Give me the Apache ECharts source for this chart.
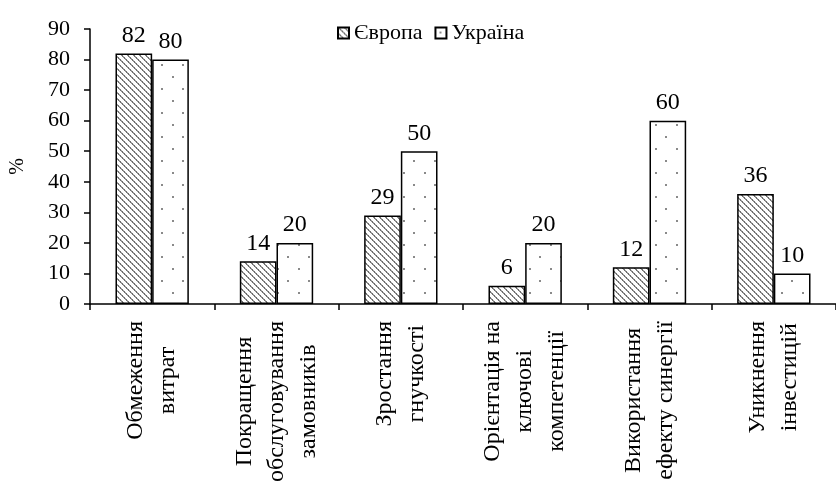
<!DOCTYPE html>
<html>
<head>
<meta charset="utf-8">
<script src="https://cdn.jsdelivr.net/npm/echarts@6/dist/echarts.min.js"></script>
<style>
html,body{margin:0;padding:0;background:#fff;}
#chart{width:836px;height:497px;}
</style>
</head>
<body>
<div id="chart"></div>
<script>
const categories = [
  'Обмеження\nвитрат',
  'Покращення\nобслуговування\nзамовників',
  'Зростання\nгнучкості',
  'Орієнтація на\nключові\nкомпетенції',
  'Використання\nефекту синергії',
  'Уникнення\nінвестицій'
];
const seriesNames = ['Європа', 'Україна'];
const europe = [82, 14, 29, 6, 12, 36];
const ukraine = [80, 20, 50, 20, 60, 10];
const yTicks = { min: 0, max: 90, interval: 10 };
const yName = '%';

const FONT = "'Liberation Serif', 'Times New Roman', serif";

function hatchPattern() {
  const c = document.createElement('canvas');
  c.width = 6; c.height = 6;
  const g = c.getContext('2d');
  g.fillStyle = '#fff'; g.fillRect(0, 0, 6, 6);
  for (let i = 0; i < 6; i++) {
    g.fillStyle = (i % 2 === 0) ? '#6e6e6e' : '#8a8a8a';
    g.fillRect(i, i, 1, 1);
    g.fillStyle = (i % 2 === 0) ? '#a0a0a0' : '#707070';
    g.fillRect((i + 1) % 6, i, 1, 1);
  }
  return c;
}
function dotPattern() {
  const c = document.createElement('canvas');
  c.width = 21; c.height = 24;
  const g = c.getContext('2d');
  g.fillStyle = '#fff'; g.fillRect(0, 0, 21, 24);
  g.fillStyle = '#8a8a8a';
  g.fillRect(4, 4, 2, 2);
  g.fillRect(14, 16, 2, 2);
  return c;
}

const chart = echarts.init(document.getElementById('chart'), null, { renderer: 'canvas' });
const labelStyle = {
  show: true, position: 'top', distance: 6,
  fontFamily: FONT, fontSize: 24, color: '#000'
};
chart.setOption({
  animation: false,
  backgroundColor: '#fff',
  textStyle: { fontFamily: FONT, color: '#000' },
  legend: {
    data: seriesNames,
    left: 332, top: 17,
    icon: 'rect', itemWidth: 11, itemHeight: 11, itemGap: 12,
    itemStyle: { borderWidth: 2, borderColor: '#000' },
    textStyle: { fontFamily: FONT, fontSize: 22, color: '#000' }
  },
  grid: { left: 89, right: -10, top: 29, bottom: 193, containLabel: false },
  xAxis: {
    type: 'category',
    data: categories,
    axisLine: { lineStyle: { color: '#000', width: 1.5 } },
    axisTick: { show: true, length: 6, lineStyle: { color: '#000', width: 1.5 } },
    axisLabel: {
      interval: 0, rotate: 90, margin: 17,
      formatter: v => v.split('\n').map(l => '{c|' + l + '}').join('\n'),
      rich: { c: { align: 'center', fontFamily: FONT, fontSize: 24, color: '#000', lineHeight: 32 } }
    }
  },
  yAxis: {
    type: 'value',
    min: yTicks.min, max: yTicks.max, interval: yTicks.interval,
    name: yName, nameLocation: 'middle', nameGap: 62, nameRotate: 90,
    nameTextStyle: { fontFamily: FONT, fontSize: 20, color: '#000' },
    splitLine: { show: false },
    axisLine: { show: true, lineStyle: { color: '#000', width: 1.5 } },
    axisTick: { show: true, length: 6, lineStyle: { color: '#000', width: 1.5 } },
    axisLabel: { margin: 20, fontFamily: FONT, fontSize: 22, color: '#000' }
  },
  series: [
    {
      name: seriesNames[0], type: 'bar', data: europe,
      barGap: '0%', barCategoryGap: '41%',
      itemStyle: { color: { image: hatchPattern(), repeat: 'repeat' }, borderColor: '#000', borderWidth: 1.5 },
      label: labelStyle
    },
    {
      name: seriesNames[1], type: 'bar', data: ukraine,
      itemStyle: { color: { image: dotPattern(), repeat: 'repeat' }, borderColor: '#000', borderWidth: 1.5 },
      label: labelStyle
    }
  ]
});
</script>
</body>
</html>
